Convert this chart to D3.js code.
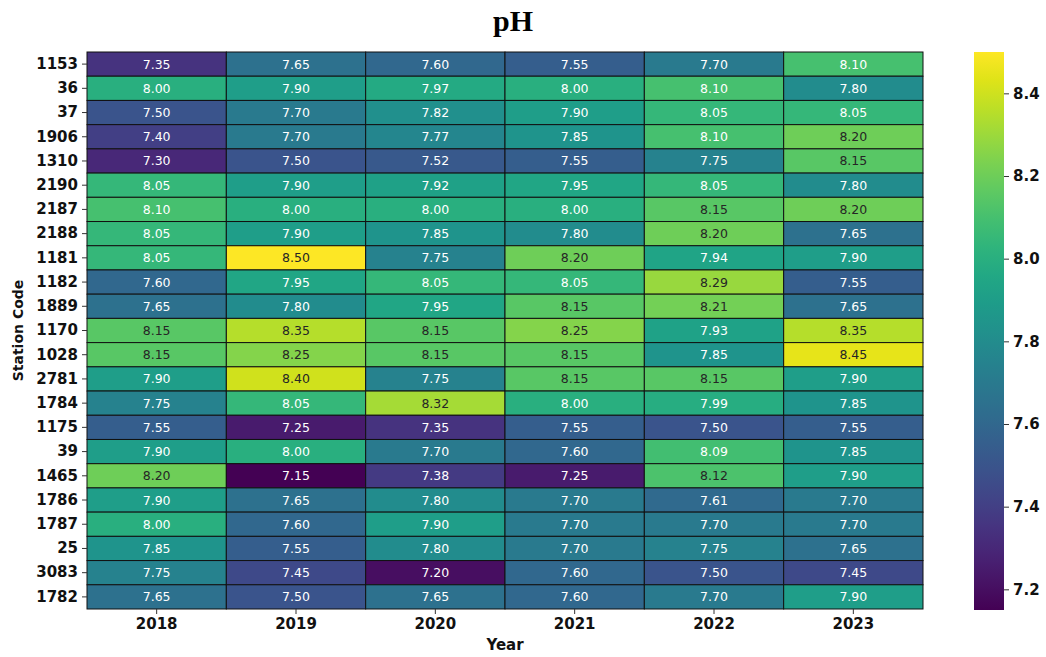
<!DOCTYPE html>
<html>
<head>
<meta charset="utf-8">
<style>
    body { margin: 0; background: white; }
    svg text { font-family: "DejaVu Sans", sans-serif; }
</style>
</head>
<body>
<div id="chart"></div>
<script src="https://cdn.jsdelivr.net/npm/d3@7/dist/d3.min.js"></script>
<script>
// station codes (rows) and years (columns)
var stations = ["1153","36","37","1906","1310","2190","2187","2188","1181","1182","1889","1170","1028","2781","1784","1175","39","1465","1786","1787","25","3083","1782"];
var years = ["2018","2019","2020","2021","2022","2023"];

// pH per year, one value per station in the order above
var ph2018 = [7.35,8.00,7.50,7.40,7.30,8.05,8.10,8.05,8.05,7.60,7.65,8.15,8.15,7.90,7.75,7.55,7.90,8.20,7.90,8.00,7.85,7.75,7.65];
var ph2019 = [7.65,7.90,7.70,7.70,7.50,7.90,8.00,7.90,8.50,7.95,7.80,8.35,8.25,8.40,8.05,7.25,8.00,7.15,7.65,7.60,7.55,7.45,7.50];
var ph2020 = [7.60,7.97,7.82,7.77,7.52,7.92,8.00,7.85,7.75,8.05,7.95,8.15,8.15,7.75,8.32,7.35,7.70,7.38,7.80,7.90,7.80,7.20,7.65];
var ph2021 = [7.55,8.00,7.90,7.85,7.55,7.95,8.00,7.80,8.20,8.05,8.15,8.25,8.15,8.15,8.00,7.55,7.60,7.25,7.70,7.70,7.70,7.60,7.60];
var ph2022 = [7.70,8.10,8.05,8.10,7.75,8.05,8.15,8.20,7.94,8.29,8.21,7.93,7.85,8.15,7.99,7.50,8.09,8.12,7.61,7.70,7.75,7.50,7.70];
var ph2023 = [8.10,7.80,8.05,8.20,8.15,7.80,8.20,7.65,7.90,7.55,7.65,8.35,8.45,7.90,7.85,7.55,7.85,7.90,7.70,7.70,7.65,7.45,7.90];

var cbTicks = [7.2,7.4,7.6,7.8,8.0,8.2,8.4];

var series = [ph2018, ph2019, ph2020, ph2021, ph2022, ph2023];
var cells = [];
for (var c = 0; c < years.length; c++) {
    for (var r = 0; r < stations.length; r++) {
        cells.push({year: years[c], station: stations[r], value: series[c][r]});
    }
}

var W = 1046, H = 657;
var plotL = 87, plotR = 923, plotT = 52, plotB = 609;

var svg = d3.select("#chart").append("svg")
    .attr("width", W)
    .attr("height", H);

var x = d3.scaleBand().domain(years).range([plotL, plotR]);
var y = d3.scaleBand().domain(stations).range([plotT, plotB]);

var allVals = cells.map(function(d){ return d.value; });
var color = d3.scaleSequential(d3.interpolateViridis)
    .domain([d3.min(allVals), d3.max(allVals)]);

// same rule seaborn uses to pick annotation colour
function luminance(col) {
    var rgb = d3.rgb(col);
    var ch = [rgb.r, rgb.g, rgb.b].map(function(v){
        v = v / 255;
        return v <= 0.03928 ? v / 12.92 : Math.pow((v + 0.055) / 1.055, 2.4);
    });
    return 0.2126 * ch[0] + 0.7152 * ch[1] + 0.0722 * ch[2];
}

svg.append("g").selectAll("rect")
    .data(cells)
    .enter()
    .append("rect")
    .attr("x", function(d){ return x(d.year); })
    .attr("y", function(d){ return y(d.station); })
    .attr("width", x.bandwidth())
    .attr("height", y.bandwidth())
    .attr("fill", function(d){ return color(d.value); })
    .attr("stroke", "#111")
    .attr("stroke-width", 1);

svg.append("g").selectAll("text")
    .data(cells)
    .enter()
    .append("text")
    .attr("x", function(d){ return x(d.year) + x.bandwidth() / 2; })
    .attr("y", function(d){ return y(d.station) + y.bandwidth() / 2; })
    .attr("dy", "0.36em")
    .attr("text-anchor", "middle")
    .style("font-size", "12.5px")
    .attr("fill", function(d){ return luminance(color(d.value)) > 0.408 ? "#262626" : "#ffffff"; })
    .text(function(d){ return d.value.toFixed(2); });

// axes
var yAxis = svg.append("g")
    .attr("transform", "translate(" + plotL + ",0)")
    .call(d3.axisLeft(y).tickSize(5).tickPadding(4));
yAxis.select(".domain").remove();
yAxis.selectAll("text").style("font-size", "15px").style("font-weight", "bold").attr("fill", "#111");
yAxis.selectAll("line").attr("stroke", "#333");

var xAxis = svg.append("g")
    .attr("transform", "translate(0," + plotB + ")")
    .call(d3.axisBottom(x).tickSize(5).tickPadding(4));
xAxis.select(".domain").remove();
xAxis.selectAll("text").style("font-size", "15px").style("font-weight", "bold").attr("fill", "#111");
xAxis.selectAll("line").attr("stroke", "#333");

// labels
svg.append("text")
    .attr("x", 513)
    .attr("y", 31)
    .attr("text-anchor", "middle")
    .style("font-family", "'Liberation Serif', 'Times New Roman', serif")
    .style("font-weight", "bold")
    .style("font-size", "30px")
    .text("pH");

svg.append("text")
    .attr("x", (plotL + plotR) / 2)
    .attr("y", 650)
    .attr("text-anchor", "middle")
    .style("font-weight", "bold")
    .style("font-size", "15px")
    .attr("fill", "#111")
    .text("Year");

svg.append("text")
    .attr("transform", "translate(23," + ((plotT + plotB) / 2) + ") rotate(-90)")
    .attr("text-anchor", "middle")
    .style("font-weight", "bold")
    .style("font-size", "14px")
    .attr("fill", "#111")
    .text("Station Code");

// colorbar
var cbX = 974, cbW = 30, cbTop = 52, cbBottom = 610;
var cbScale = d3.scaleLinear().domain(color.domain()).range([cbBottom, cbTop]);

var defs = svg.append("defs");
var grad = defs.append("linearGradient")
    .attr("id", "cbGrad")
    .attr("x1", "0%").attr("y1", "100%")
    .attr("x2", "0%").attr("y2", "0%");
d3.range(0, 1.0001, 0.05).forEach(function(t){
    grad.append("stop")
        .attr("offset", (t * 100) + "%")
        .attr("stop-color", d3.interpolateViridis(t));
});

svg.append("rect")
    .attr("x", cbX)
    .attr("y", cbTop)
    .attr("width", cbW)
    .attr("height", cbBottom - cbTop)
    .attr("fill", "url(#cbGrad)");

var cbAxis = svg.append("g")
    .attr("transform", "translate(" + (cbX + cbW) + ",0)")
    .call(d3.axisRight(cbScale).tickValues(cbTicks).tickFormat(d3.format(".1f")).tickSize(5).tickPadding(4));
cbAxis.select(".domain").remove();
cbAxis.selectAll("text").style("font-size", "15px").style("font-weight", "bold").attr("fill", "#111");
cbAxis.selectAll("line").attr("stroke", "#333");
</script>
</body>
</html>
